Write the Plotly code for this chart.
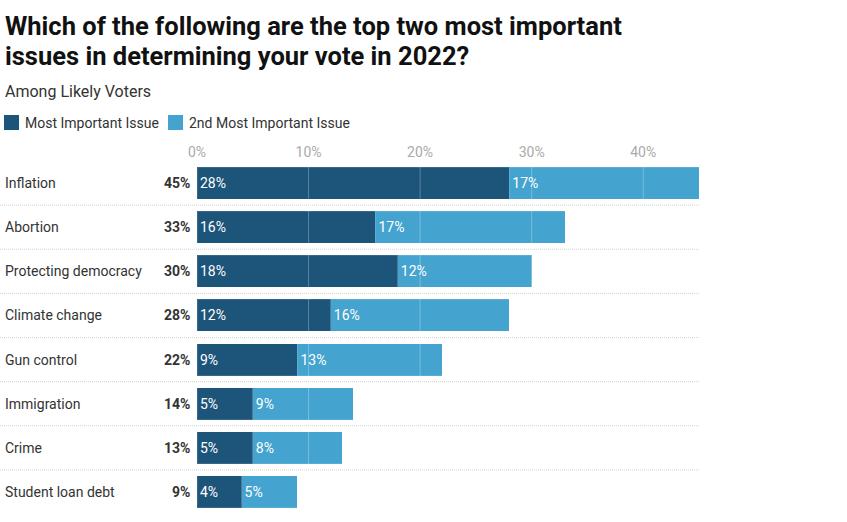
import plotly.graph_objects as go

categories = ["Inflation", "Abortion", "Protecting democracy", "Climate change",
              "Gun control", "Immigration", "Crime", "Student loan debt"]
most_important = [28, 16, 18, 12, 9, 5, 5, 4]
second_important = [17, 17, 12, 16, 13, 9, 8, 5]
totals = [45, 33, 30, 28, 22, 14, 13, 9]
tick_values = [0, 10, 20, 30, 40]
tick_labels = ["0%", "10%", "20%", "30%", "40%"]
series_names = ["Most Important Issue", "2nd Most Important Issue"]

DARK = "#1d5479"
LIGHT = "#44a3cf"
FONT = "Roboto"
TXT = "#333333"

W, H = 847, 522
L, R, T, B = 197, 148, 161, 8
PW, PH = W - L - R, H - T - B


def px_x(px):
    return (px - L) / PW


def px_y(py):
    return (H - B - py) / PH


fig = go.Figure()
for vals, col, name in [(most_important, DARK, series_names[0]),
                        (second_important, LIGHT, series_names[1])]:
    fig.add_trace(go.Bar(
        y=categories, x=vals, orientation="h", name=name,
        marker=dict(color=col, line=dict(width=1, color="rgba(255,255,255,0.12)")),
        text=[f"{v}%" for v in vals], textposition="inside",
        insidetextanchor="start", textfont=dict(color="white", size=14, family=FONT),
        hoverinfo="skip", showlegend=False,
    ))

shapes = []
for tv in tick_values[1:]:
    shapes.append(dict(type="line", xref="x", yref="paper", x0=tv, x1=tv, y0=0, y1=1,
                       line=dict(color="rgba(255,255,255,0.28)", width=1), layer="above"))
for i in range(len(categories) - 1):
    shapes.append(dict(type="line", xref="paper", yref="y", x0=px_x(0), x1=1,
                       y0=i + 0.5, y1=i + 0.5,
                       line=dict(color="#d4d4d4", width=1, dash="1px,1px"), layer="below"))

# manual legend swatches
legend_x = [4, 168]
legend_text_x = [24, 188]
for lx, col in zip(legend_x, [DARK, LIGHT]):
    shapes.append(dict(type="rect", xref="paper", yref="paper",
                       x0=px_x(lx), x1=px_x(lx + 15), y0=px_y(130), y1=px_y(115),
                       fillcolor=col, line=dict(width=0)))

annotations = []
for c, t in zip(categories, totals):
    annotations.append(dict(xref="paper", yref="y", x=px_x(4), y=c, text=c,
                            xanchor="left", yanchor="middle", showarrow=False, borderpad=0,
                            font=dict(size=14, color=TXT, family=FONT)))
    annotations.append(dict(xref="paper", yref="y", x=px_x(191), y=c, text=f"<b>{t}%</b>",
                            xanchor="right", yanchor="middle", showarrow=False, borderpad=0,
                            font=dict(size=14, color=TXT, family=FONT)))
for tx, name in zip(legend_text_x, series_names):
    annotations.append(dict(xref="paper", yref="paper", x=px_x(tx), y=px_y(122.5), text=name,
                            xanchor="left", yanchor="middle", showarrow=False, borderpad=0,
                            font=dict(size=14, color=TXT, family=FONT)))
annotations.append(dict(xref="paper", yref="paper", x=px_x(4), y=px_y(91),
                        text="Among Likely Voters", xanchor="left", yanchor="middle",
                        showarrow=False, borderpad=0, font=dict(size=16, color=TXT, family=FONT)))
title_lines = ["Which of the following are the top two most important",
               "issues in determining your vote in 2022?"]
for ty, line in zip([26, 56], title_lines):
    annotations.append(dict(xref="paper", yref="paper", x=px_x(4), y=px_y(ty),
                            text=f"<b>{line}</b>", xanchor="left", yanchor="middle",
                            showarrow=False, borderpad=0,
                            font=dict(size=25.5, color="#111111", family=FONT)))

fig.update_layout(
    width=W, height=H,
    margin=dict(l=L, r=R, t=T, b=B, autoexpand=False),
    paper_bgcolor="white", plot_bgcolor="white",
    barmode="stack", bargap=12 / 44,
    font=dict(family=FONT, color=TXT),
    showlegend=False,
    xaxis=dict(range=[0, 45], side="top", tickvals=tick_values, ticktext=tick_labels,
               showgrid=False, zeroline=False, showline=False, ticks="",
               tickfont=dict(size=14, color="#aaaaaa", family=FONT), fixedrange=True),
    yaxis=dict(type="category", autorange="reversed", showticklabels=False,
               showgrid=False, zeroline=False, showline=False, fixedrange=True),
    shapes=shapes, annotations=annotations,
    uniformtext=dict(mode="show", minsize=8),
)

fig.write_html("out.html", config={"displayModeBar": False},
               post_script="document.body.style.margin='0';")
